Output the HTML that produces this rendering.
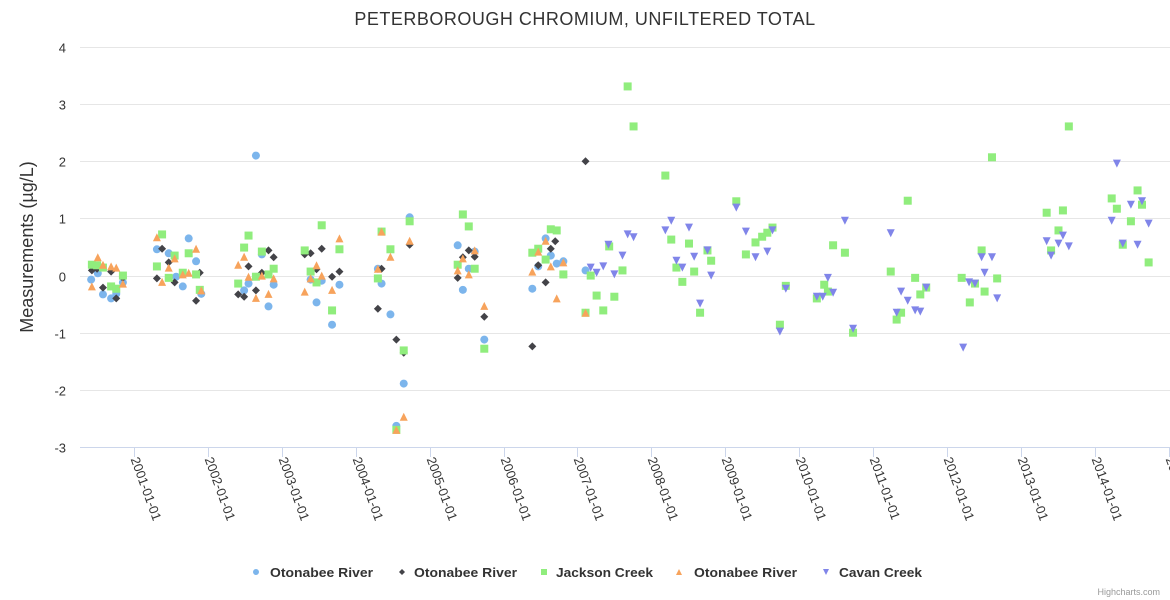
<!DOCTYPE html>
<html><head><meta charset="utf-8"><style>
html,body{margin:0;padding:0;background:#fff;}
svg{display:block;font-family:"Liberation Sans","DejaVu Sans",sans-serif;}
</style></head><body>
<svg id="chart" width="1170" height="600" xmlns="http://www.w3.org/2000/svg">
<text x="585" y="25" text-anchor="middle" font-size="18" fill="#333" letter-spacing="0.5">PETERBOROUGH CHROMIUM, UNFILTERED TOTAL</text>
<text transform="translate(33,247) rotate(-90)" text-anchor="middle" font-size="18" fill="#333">Measurements (µg/L)</text>
<g id="grid"></g><g id="xaxis"></g><g id="marks"></g><g id="legend"></g>
<text x="1160" y="595" text-anchor="end" font-size="9" fill="#999">Highcharts.com</text>
</svg>
<script>
const yTicks=[-3,-2,-1,0,1,2,3,4];
const xTickYears=[2001,2002,2003,2004,2005,2006,2007,2008,2009,2010,2011,2012,2013,2014,2015];
const seriesNames=["Otonabee River","Otonabee River","Jackson Creek","Otonabee River","Cavan Creek"];
const otonabeeCircle=[[2000.42,-0.07],[2000.51,0.04],[2000.58,-0.33],[2000.69,-0.40],[2000.76,-0.32],[2000.85,-0.12],[2001.31,0.46],[2001.47,0.39],[2001.57,-0.02],[2001.66,-0.19],[2001.74,0.65],[2001.84,0.25],[2001.91,-0.32],[2002.65,2.10],[2002.49,-0.26],[2002.55,-0.14],[2002.73,0.37],[2002.82,-0.54],[2002.89,-0.16],[2003.39,-0.07],[2003.47,-0.47],[2003.54,-0.09],[2003.68,-0.86],[2003.78,-0.16],[2004.30,0.12],[2004.35,-0.14],[2004.47,-0.68],[2004.65,-1.89],[2004.55,-2.63],[2004.73,1.02],[2005.38,0.53],[2005.45,-0.25],[2005.53,0.12],[2005.61,0.42],[2005.74,-1.12],[2006.39,-0.23],[2006.47,0.16],[2006.57,0.65],[2006.64,0.35],[2006.72,0.21],[2006.81,0.25],[2007.11,0.09]];
const otonabeeDiamond=[[2000.43,0.09],[2000.50,0.12],[2000.58,-0.21],[2000.69,0.07],[2000.76,-0.40],[2000.85,-0.04],[2001.31,-0.05],[2001.38,0.47],[2001.47,0.23],[2001.55,-0.12],[2001.84,-0.44],[2001.89,0.05],[2002.41,-0.33],[2002.49,-0.37],[2002.55,0.16],[2002.65,-0.26],[2002.73,0.05],[2002.82,0.44],[2002.89,0.32],[2003.31,0.37],[2003.39,0.39],[2003.47,0.11],[2003.54,0.47],[2003.68,-0.02],[2003.78,0.07],[2004.35,0.12],[2004.30,-0.58],[2004.55,-1.12],[2004.65,-1.35],[2004.73,0.54],[2005.38,-0.04],[2005.45,0.32],[2005.53,0.44],[2005.61,0.33],[2005.74,-0.72],[2006.39,-1.24],[2006.47,0.18],[2006.57,-0.12],[2006.64,0.47],[2006.70,0.60],[2006.81,0.02],[2007.11,2.00]];
const jacksonCreek=[[2000.43,0.19],[2000.50,0.18],[2000.58,0.14],[2000.69,-0.19],[2000.76,-0.23],[2000.85,0],[2001.31,0.16],[2001.38,0.72],[2001.55,0.35],[2001.47,-0.04],[2001.66,0.05],[2001.74,0.39],[2001.84,0.02],[2001.89,-0.25],[2002.41,-0.14],[2002.49,0.49],[2002.55,0.70],[2002.65,-0.02],[2002.73,0.42],[2002.82,0.02],[2002.89,0.12],[2003.31,0.44],[2003.39,0.07],[2003.47,-0.12],[2003.54,0.88],[2003.68,-0.61],[2003.78,0.46],[2004.35,0.77],[2004.30,-0.05],[2004.47,0.46],[2004.65,-1.31],[2004.55,-2.70],[2004.73,0.95],[2005.45,1.07],[2005.53,0.86],[2005.38,0.19],[2005.61,0.12],[2005.74,-1.28],[2006.39,0.40],[2006.47,0.47],[2006.57,0.28],[2006.64,0.81],[2006.72,0.79],[2006.81,0.02],[2007.18,0],[2007.26,-0.35],[2007.35,-0.61],[2007.11,-0.65],[2007.68,3.31],[2007.76,2.61],[2007.43,0.51],[2007.61,0.09],[2007.50,-0.37],[2008.19,1.75],[2008.27,0.63],[2008.51,0.56],[2008.34,0.14],[2008.42,-0.11],[2008.58,0.07],[2008.76,0.44],[2008.81,0.26],[2008.66,-0.65],[2009.15,1.30],[2009.28,0.37],[2009.41,0.58],[2009.50,0.68],[2009.57,0.75],[2009.64,0.84],[2009.82,-0.18],[2009.74,-0.86],[2010.34,-0.16],[2010.39,-0.28],[2010.24,-0.40],[2010.46,0.53],[2010.62,0.40],[2010.73,-1.00],[2011.47,1.31],[2011.24,0.07],[2011.57,-0.04],[2011.72,-0.21],[2011.64,-0.33],[2011.38,-0.65],[2011.32,-0.77],[2012.61,2.07],[2012.20,-0.04],[2012.31,-0.47],[2012.38,-0.14],[2012.51,-0.28],[2012.47,0.44],[2012.68,-0.05],[2013.65,2.61],[2013.35,1.10],[2013.57,1.14],[2013.51,0.79],[2013.41,0.44],[2014.23,1.35],[2014.30,1.17],[2014.58,1.49],[2014.64,1.24],[2014.49,0.95],[2014.38,0.54],[2014.73,0.23]];
const otonabeeTriangle=[[2000.43,-0.19],[2000.51,0.32],[2000.58,0.19],[2000.69,0.16],[2000.76,0.14],[2000.85,-0.14],[2001.31,0.67],[2001.38,-0.11],[2001.47,0.14],[2001.55,0.30],[2001.66,0.02],[2001.74,0.05],[2001.84,0.47],[2001.91,-0.26],[2002.41,0.19],[2002.49,0.33],[2002.55,-0.02],[2002.65,-0.39],[2002.73,0],[2002.82,-0.32],[2002.89,-0.05],[2003.31,-0.28],[2003.39,-0.05],[2003.47,0.18],[2003.54,0],[2003.68,-0.25],[2003.78,0.65],[2004.35,0.77],[2004.30,0.12],[2004.47,0.33],[2004.55,-2.70],[2004.65,-2.47],[2004.73,0.61],[2005.38,0.09],[2005.45,0.30],[2005.53,0.02],[2005.61,0.44],[2005.74,-0.53],[2006.39,0.07],[2006.47,0.42],[2006.57,0.61],[2006.64,0.16],[2006.72,-0.40],[2006.81,0.23],[2007.11,-0.65]];
const cavanCreek=[[2007.18,0.14],[2007.26,0.05],[2007.35,0.16],[2007.42,0.54],[2007.50,0.02],[2007.61,0.35],[2007.68,0.72],[2007.76,0.67],[2008.27,0.96],[2008.19,0.79],[2008.51,0.84],[2008.34,0.26],[2008.42,0.14],[2008.58,0.33],[2008.76,0.44],[2008.81,0],[2008.66,-0.49],[2009.15,1.19],[2009.28,0.77],[2009.41,0.32],[2009.57,0.42],[2009.64,0.79],[2009.82,-0.23],[2009.74,-0.98],[2010.62,0.96],[2010.39,-0.04],[2010.46,-0.30],[2010.24,-0.37],[2010.32,-0.37],[2010.73,-0.93],[2011.24,0.74],[2011.38,-0.28],[2011.47,-0.44],[2011.32,-0.65],[2011.57,-0.61],[2011.64,-0.63],[2011.72,-0.21],[2012.22,-1.26],[2012.30,-0.12],[2012.38,-0.14],[2012.47,0.32],[2012.61,0.32],[2012.51,0.05],[2012.68,-0.40],[2013.35,0.60],[2013.57,0.70],[2013.51,0.56],[2013.65,0.51],[2013.41,0.35],[2014.30,1.96],[2014.23,0.96],[2014.49,1.24],[2014.64,1.30],[2014.73,0.91],[2014.38,0.56],[2014.58,0.54]];

const NS="http://www.w3.org/2000/svg";
const PL=80,PR=1170,PT=47,PB=447;
function xs(yr){return 134+(yr-2001)*73.9;}
function ys(v){return PB-(v-(-3))*(PB-PT)/7;}
function mk(tag,attrs,parent){const e=document.createElementNS(NS,tag);for(const k in attrs)e.setAttribute(k,attrs[k]);parent.appendChild(e);return e;}
const grid=document.getElementById('grid'),xa=document.getElementById('xaxis'),marks=document.getElementById('marks'),leg=document.getElementById('legend');
yTicks.forEach(t=>{
  const y=Math.round(ys(t))+0.5;
  if(t!==-3){const l=mk('line',{x1:PL,x2:PR,y1:y,y2:y,stroke:'#e6e6e6','stroke-width':1},grid);
  
  }
  const tx=mk('text',{x:66,y:y+5,'text-anchor':'end','font-size':13,fill:'#333'},grid);
  tx.textContent=String(t);
  
  
});
const axl=mk('line',{x1:PL,x2:PR,y1:447.5,y2:447.5,stroke:'#ccd6eb','stroke-width':1},xa);


xTickYears.forEach(yr=>{
  const x=Math.round(xs(yr))+0.5;
  const t=mk('line',{x1:x,x2:x,y1:447,y2:457,stroke:'#ccd6eb'},xa);
  
  
  const tx=mk('text',{transform:`translate(${x-4},${459}) rotate(70)`,'font-size':13,fill:'#333'},xa);
  tx.textContent=yr+'-01-01';
  
  
});
function marker(type,cx,cy,color,parent,s){
  let e;
  if(type==='circle')e=mk('circle',{cx:cx,cy:cy,r:s,fill:color},parent);
  else if(type==='diamond')e=mk('path',{d:`M${cx} ${cy-s}L${cx+s} ${cy}L${cx} ${cy+s}L${cx-s} ${cy}Z`,fill:color},parent);
  else if(type==='square')e=mk('rect',{x:cx-s,y:cy-s,width:2*s,height:2*s,fill:color},parent);
  else if(type==='triangle')e=mk('path',{d:`M${cx} ${cy-s}L${cx+s} ${cy+s}L${cx-s} ${cy+s}Z`,fill:color},parent);
  else e=mk('path',{d:`M${cx-s} ${cy-s}L${cx+s} ${cy-s}L${cx} ${cy+s}Z`,fill:color},parent);
  return e;
}
const defs=[[otonabeeCircle,'circle','#7cb5ec'],[otonabeeDiamond,'diamond','#434348'],[jacksonCreek,'square','#90ed7d'],[otonabeeTriangle,'triangle','#f7a35c'],[cavanCreek,'tri-down','#8085e9']];
defs.forEach((d,i)=>{
  const g=mk('g',{},marks);
  
  
  d[0].forEach(p=>{
    const m=marker(d[1],xs(p[0]),ys(p[1]),d[2],g,4);
    
    
  });
});
const legX=[256,402,544,679,826];
const legT=[270,414,556,694,839];
const legW=[103,103,97,103,83];
defs.forEach((d,i)=>{
  const g=mk('g',{},leg);
  
  
  marker(d[1],legX[i],572,d[2],g,3);
  const t=mk('text',{x:legT[i],y:577,'font-size':13,'font-weight':'bold',fill:'#333',textLength:legW[i],lengthAdjust:'spacingAndGlyphs'},g);
  t.textContent=seriesNames[i];
});
</script>
</body></html>
